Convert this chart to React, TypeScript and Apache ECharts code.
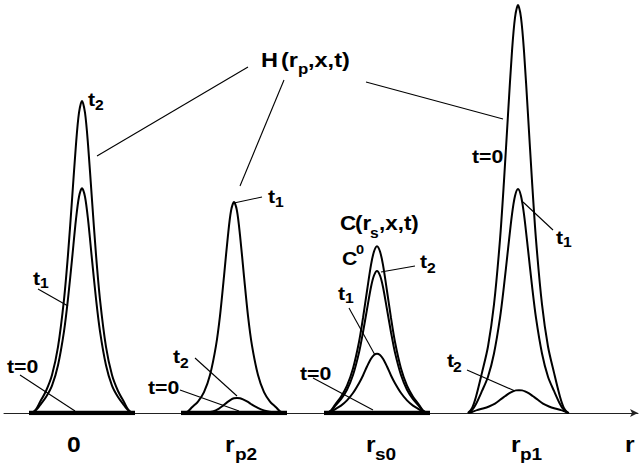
import React, { useEffect, useRef } from "react";
import * as echarts from "echarts";

// x offsets (in r units) around each peak centre
const OFFSETS = [-5, -4.6, -4.2, -3.6, -3, -2.4, -1.8, -1.4, -1, -0.6, -0.3, 0, 0.3, 0.6, 1, 1.4, 1.8, 2.4, 3, 3.6, 4.2, 4.6, 5];

// peak centres on the r axis
const CENTER_0 = 7.8;
const CENTER_RP2 = 23.0;
const CENTER_RP2_BUMP = 23.3;
const CENTER_RS0 = 37.3;
const CENTER_RP1 = 51.4;
const CENTER_RP1_BUMP = 51.5;

// H(r_p,x,t) at r = 0
const H0_T2 = [0, 0.9, 2.7, 5.4, 9.3, 16.2, 27.8, 38.8, 52.2, 65.9, 73.6, 76.5, 73.6, 65.9, 52.2, 38.8, 27.8, 16.2, 9.3, 5.4, 2.7, 0.9, 0];
const H0_T1 = [0, 0.7, 1.9, 3.9, 6.7, 11.7, 20.0, 28.0, 37.6, 47.5, 53.0, 55.1, 53.0, 47.5, 37.6, 28.0, 20.0, 11.7, 6.7, 3.9, 1.9, 0.7, 0];
// H at r_p2
const HP2_T1 = [0, 0.4, 1.4, 2.8, 5.1, 9.3, 16.5, 23.8, 33.5, 43.6, 49.5, 51.7, 49.5, 43.6, 33.5, 23.8, 16.5, 9.3, 5.1, 2.8, 1.4, 0.4, 0];
const HP2_T2 = [0, 0, 0, 0, 0.1, 0.4, 1.1, 1.8, 2.6, 3.3, 3.6, 3.7, 3.6, 3.35, 2.85, 2.2, 1.6, 0.9, 0.45, 0.2, 0.05, 0, 0];
// C(r_s,x,t) at r_s0
const CS0_C0 = [0, 0.6, 2.0, 4.0, 6.7, 10.9, 17.4, 23.3, 29.9, 36.3, 39.6, 40.9, 39.6, 36.3, 29.9, 23.3, 17.4, 10.9, 6.7, 4.0, 2.0, 0.6, 0];
const CS0_T2 = [0, 0.5, 1.7, 3.4, 5.7, 9.3, 14.8, 19.8, 25.4, 30.9, 33.7, 34.8, 33.7, 30.9, 25.4, 19.8, 14.8, 9.3, 5.7, 3.4, 1.7, 0.5, 0];
const CS0_T1 = [0, 0.3, 0.9, 1.8, 3.1, 4.9, 7.3, 9.2, 11.4, 13.3, 14.2, 14.5, 14.2, 13.3, 11.4, 9.2, 7.3, 4.9, 3.1, 1.8, 0.9, 0.3, 0];
// H at r_p1
const HP1_T0 = [0, 1.2, 4.0, 9.9, 16.3, 26.6, 42.5, 56.9, 73.1, 88.7, 96.9, 100, 96.9, 88.7, 73.1, 56.9, 42.5, 26.6, 16.3, 9.9, 4.0, 1.2, 0];
const HP1_T1 = [0, 0.7, 2.2, 5.4, 8.9, 14.6, 23.3, 31.2, 40.1, 48.7, 53.2, 54.9, 53.2, 48.7, 40.1, 31.2, 23.3, 14.6, 8.9, 5.4, 2.2, 0.7, 0];
const HP1_T2 = [0, 0.35, 0.7, 1.1, 1.6, 2.3, 3.4, 4.1, 4.8, 5.3, 5.55, 5.6, 5.55, 5.3, 4.8, 4.1, 3.4, 2.3, 1.6, 1.1, 0.7, 0.35, 0];

// zero (t=0) profiles drawn as thick baseline segments
const ZERO_HALF_WIDTH = 5.3;
const ZERO_CENTERS = [CENTER_0, CENTER_RP2, CENTER_RS0];

const FONT = "'Liberation Sans', Arial, Helvetica, sans-serif";
const SX = 1.12;

type Piece = [string, number, number, number];

// text pieces: [text, left x, middle y, font size]
const TEXTS: Piece[] = [
  ["0", 67, 444, 22],
  ["r", 225, 444, 22], ["p2", 235, 454, 17],
  ["r", 366, 444, 22], ["s0", 375, 454, 17],
  ["r", 511, 444, 22], ["p1", 520, 454, 17],
  ["r", 625, 444, 22],
  ["H", 261, 60, 21], ["(r", 281, 60, 21], ["p", 298, 69, 15], [",x,t)", 308, 60, 21],
  ["C", 340, 223, 20], ["(r", 355, 223, 20], ["s", 370, 233, 14], [",x,t)", 379, 223, 20],
  ["C", 342, 258, 19], ["0", 356, 250, 13],
  ["t", 88, 99, 19], ["2", 95, 105, 14],
  ["t", 268, 196, 19], ["1", 275, 202, 14],
  ["t", 33, 278, 19], ["1", 40, 283, 14],
  ["t=0", 7, 366, 19],
  ["t", 173, 356, 19], ["2", 180, 363, 14],
  ["t=0", 148, 387, 19],
  ["t=0", 300, 373, 19],
  ["t", 338, 293, 19], ["1", 345, 298, 14],
  ["t", 420, 261, 19], ["2", 427, 268, 14],
  ["t=0", 472, 156, 19],
  ["t", 556, 237, 19], ["1", 563, 242, 14],
  ["t", 447, 360, 19], ["2", 453, 367, 14],
];

// leader lines: [x1, y1, x2, y2]
const LEADERS = [
  [248, 67, 97, 156],
  [284, 80, 240, 186],
  [366, 82, 503, 119],
  [262, 197, 234, 203],
  [38, 289, 68, 306],
  [20, 375, 75, 411],
  [195, 358, 237, 396],
  [180, 390, 239, 411],
  [313, 378, 373, 410],
  [349, 308, 375, 355],
  [415, 266, 381, 272],
  [523, 202, 553, 230],
  [467, 370, 515, 391],
];

function curve(center: number, vals: number[]) {
  return OFFSETS.map((o, i) => [+(center + o).toFixed(2), vals[i]]);
}

export default function App() {
  const ref = useRef<HTMLDivElement>(null);
  useEffect(() => {
    if (!ref.current) return;
    const chart = echarts.init(ref.current, null, { renderer: "svg" });
    const curveSeries = [
      [CENTER_0, H0_T2],
      [CENTER_0, H0_T1],
      [CENTER_RP2, HP2_T1],
      [CENTER_RP2_BUMP, HP2_T2],
      [CENTER_RS0, CS0_C0],
      [CENTER_RS0, CS0_T2],
      [CENTER_RS0, CS0_T1],
      [CENTER_RP1, HP1_T0],
      [CENTER_RP1, HP1_T1],
      [CENTER_RP1_BUMP, HP1_T2],
    ].map(([c, v]) => ({
      type: "line",
      data: curve(c as number, v as number[]),
      smooth: 0.3,
      showSymbol: false,
      symbol: "none",
      lineStyle: { color: "#000", width: 2 },
      silent: true,
      z: 3,
    }));
    const zeroSeries = ZERO_CENTERS.map((c) => ({
      type: "line",
      data: [
        [c - ZERO_HALF_WIDTH, 0],
        [c + ZERO_HALF_WIDTH, 0],
      ],
      showSymbol: false,
      symbol: "none",
      lineStyle: { color: "#000", width: 4.5 },
      silent: true,
      z: 4,
    }));
    const graphics: any[] = [];
    TEXTS.forEach(([t, x, y, s]) => {
      graphics.push({
        type: "text",
        x,
        y,
        scaleX: SX,
        silent: true,
        style: {
          text: t,
          x: 0,
          y: 0,
          fill: "#000",
          fontSize: s,
          fontWeight: "bold",
          fontFamily: FONT,
          align: "left",
          verticalAlign: "middle",
        },
      });
    });
    LEADERS.forEach(([x1, y1, x2, y2]) => {
      graphics.push({
        type: "line",
        silent: true,
        shape: { x1, y1, x2, y2 },
        style: { stroke: "#000", lineWidth: 1.1 },
      });
    });
    chart.setOption({
      animation: false,
      backgroundColor: "#fff",
      grid: { left: 4, right: 2, top: 5, bottom: 52 },
      xAxis: {
        type: "value",
        min: 0,
        max: 63.4,
        axisLine: {
          show: true,
          symbol: ["none", "arrow"],
          symbolSize: [6, 8],
          lineStyle: { color: "#222", width: 1 },
        },
        axisTick: { show: false },
        axisLabel: { show: false },
        splitLine: { show: false },
      },
      yAxis: {
        type: "value",
        min: 0,
        max: 100,
        show: false,
        splitLine: { show: false },
      },
      series: [...curveSeries, ...zeroSeries],
      graphic: graphics,
    });
    return () => chart.dispose();
  }, []);
  return (
    <div
      ref={ref}
      style={{ position: "fixed", left: 0, top: 0, width: 640, height: 465 }}
    />
  );
}
